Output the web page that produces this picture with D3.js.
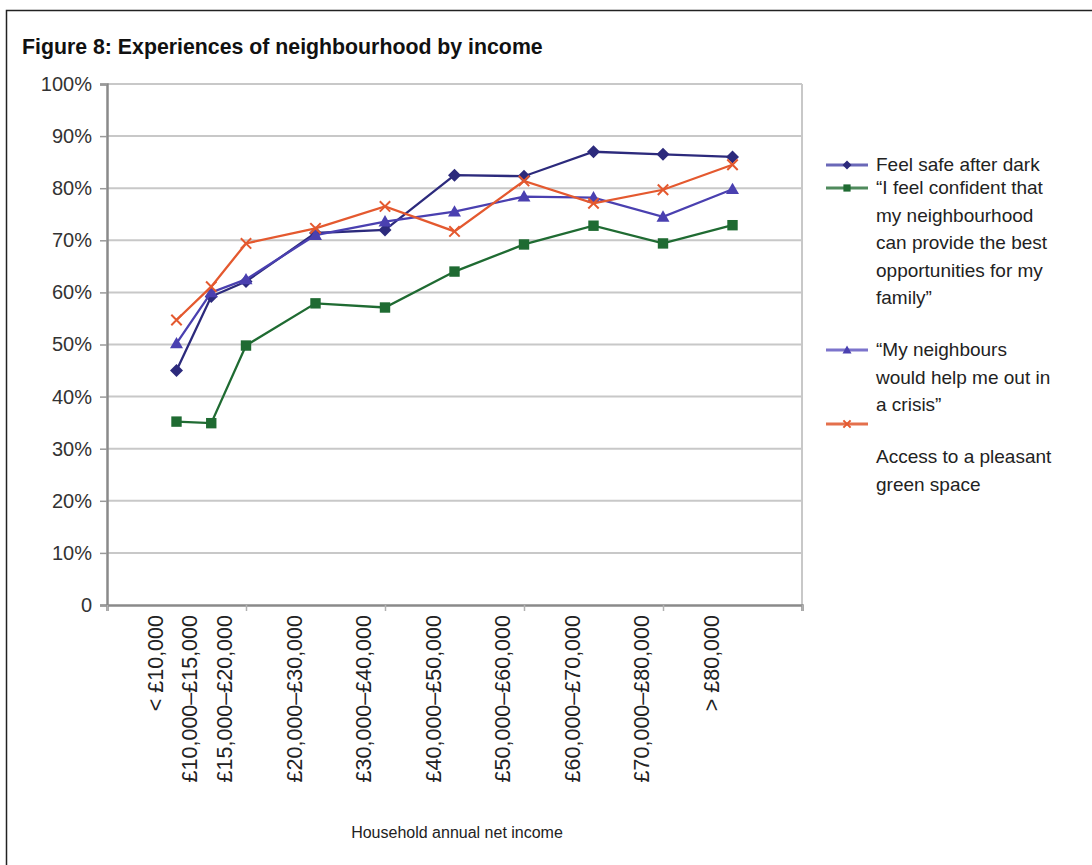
<!DOCTYPE html>
<html><head><meta charset="utf-8">
<script src="https://cdn.jsdelivr.net/npm/d3@7/dist/d3.min.js"></script>
<style>
html,body{margin:0;padding:0;background:#fff;}
svg{display:block;font-family:"Liberation Sans",Arial,Helvetica,sans-serif;}
</style></head>
<body>
<svg id="chart" width="1092" height="865"></svg>
<script>
const title = "Figure 8: Experiences of neighbourhood by income";
const categories = ["< £10,000","£10,000–£15,000","£15,000–£20,000","£20,000–£30,000","£30,000–£40,000","£40,000–£50,000","£50,000–£60,000","£60,000–£70,000","£70,000–£80,000","> £80,000"];
const incomeK = [10,15,20,30,40,50,60,70,80,90];
const feelSafe = [45.0,59.2,62.1,71.4,72.0,82.5,82.3,87.0,86.5,86.0];
const confident = [35.2,34.9,49.8,57.9,57.1,64.0,69.2,72.8,69.4,72.9];
const helpCrisis = [50.2,60.0,62.5,71.0,73.6,75.5,78.4,78.2,74.5,79.8];
const greenSpace = [54.7,61.1,69.4,72.3,76.5,71.7,81.4,77.1,79.7,84.5];
const yTicks = [0,10,20,30,40,50,60,70,80,90,100];
const xTicks = [0,20,40,60,80,100];
const xTitle = "Household annual net income";

const series = [
  {name:["Feel safe after dark"], values:feelSafe, color:"#2c2a7c", legendLine:"#6a68b8", marker:"diamond"},
  {name:["“I feel confident that","my neighbourhood","can provide the best","opportunities for my","family”"], values:confident, color:"#1f6b32", legendLine:"#4f8a5c", marker:"square"},
  {name:["“My neighbours","would help me out in","a crisis”"], values:helpCrisis, color:"#4a40b0", legendLine:"#7c74cc", marker:"triangle"},
  {name:["Access to a pleasant","green space"], values:greenSpace, color:"#e4592f", legendLine:"#e4704c", marker:"cross"}
];

const svg = d3.select("#chart");
// frame
svg.append("rect").attr("x",6.5).attr("y",10.5).attr("width",1200).attr("height",1000)
  .attr("fill","none").attr("stroke","#222").attr("stroke-width",1.5);

svg.append("text").attr("x",22).attr("y",54).attr("font-size",21.3).attr("font-weight","bold")
  .attr("fill","#111").text(title);

const L=107,R=802,T=84,B=605;
const x = d3.scaleLinear().domain([0,100]).range([L,R]);
const y = d3.scaleLinear().domain([0,100]).range([B,T]);

// gridlines
svg.append("g").selectAll("line").data(yTicks.filter(d=>d>0)).join("line")
  .attr("x1",L).attr("x2",R).attr("y1",d=>y(d)).attr("y2",d=>y(d))
  .attr("stroke","#c8c8c8").attr("stroke-width",2);
// right border
svg.append("line").attr("x1",R).attr("x2",R).attr("y1",T).attr("y2",B)
  .attr("stroke","#c8c8c8").attr("stroke-width",2);

// y axis
const yAxis = d3.axisLeft(y).tickValues(yTicks).tickSize(7).tickPadding(8)
  .tickFormat(d=> d===0 ? "0" : d+"%");
const gy = svg.append("g").attr("transform",`translate(${L},0)`).call(yAxis);
gy.select(".domain").attr("stroke","#8a8a8a").attr("stroke-width",2.5);
gy.selectAll(".tick line").attr("stroke","#9a9a9a").attr("stroke-width",1.5);
gy.selectAll(".tick text").attr("font-size",20).attr("fill","#333")
  .attr("font-family","'Liberation Sans',Arial,sans-serif");

// x axis
const xAxis = d3.axisBottom(x).tickValues(xTicks).tickSize(6).tickFormat("");
const gx = svg.append("g").attr("transform",`translate(0,${B})`).call(xAxis);
gx.select(".domain").attr("stroke","#8a8a8a").attr("stroke-width",2.5);
gx.selectAll(".tick line").attr("stroke","#b0b0b0").attr("stroke-width",1.5);

// category labels
svg.append("g").selectAll("text").data(categories).join("text")
  .attr("transform",(d,i)=>`translate(${x(incomeK[i])-14},${B+10}) rotate(-90)`)
  .attr("text-anchor","end").attr("font-size",21.5).attr("fill","#222")
  .text(d=>d);

svg.append("text").attr("x",457).attr("y",838).attr("text-anchor","middle")
  .attr("font-size",16).attr("fill","#222").text(xTitle);

function marker(g, type, color, cx, cy, s){
  if(type==="diamond"){
    g.append("path").attr("d",`M${cx},${cy-s}L${cx+s},${cy}L${cx},${cy+s}L${cx-s},${cy}Z`).attr("fill",color);
  } else if(type==="square"){
    g.append("rect").attr("x",cx-s*0.8).attr("y",cy-s*0.8).attr("width",s*1.6).attr("height",s*1.6).attr("fill",color);
  } else if(type==="triangle"){
    g.append("path").attr("d",`M${cx},${cy-s}L${cx+s},${cy+s*0.75}L${cx-s},${cy+s*0.75}Z`).attr("fill",color);
  } else {
    g.append("path").attr("d",`M${cx-s*0.8},${cy-s*0.8}L${cx+s*0.8},${cy+s*0.8}M${cx-s*0.8},${cy+s*0.8}L${cx+s*0.8},${cy-s*0.8}`)
      .attr("stroke",color).attr("stroke-width",2).attr("fill","none");
  }
}

const line = d3.line().x((d,i)=>x(incomeK[i])).y(d=>y(d));
series.forEach(s=>{
  const g = svg.append("g");
  g.append("path").datum(s.values).attr("d",line).attr("fill","none")
    .attr("stroke",s.color).attr("stroke-width",2.3);
  s.values.forEach((v,i)=>marker(g,s.marker,s.color,x(incomeK[i]),y(v),6.5));
});

// legend
const lx=826, tx=876, lh=27.5;
const legendRows=[165,188,350,424];
const legendTextStart=[171,194,356,463];
series.forEach((s,k)=>{
  const g=svg.append("g");
  g.append("line").attr("x1",lx).attr("x2",lx+42).attr("y1",legendRows[k]).attr("y2",legendRows[k])
    .attr("stroke",s.legendLine).attr("stroke-width",3);
  marker(g,s.marker,s.color,lx+21,legendRows[k],4.5);
  s.name.forEach((t,j)=>{
    g.append("text").attr("x",tx).attr("y",legendTextStart[k]+j*lh).attr("font-size",19)
      .attr("fill","#222").text(t);
  });
});
</script>
</body></html>
